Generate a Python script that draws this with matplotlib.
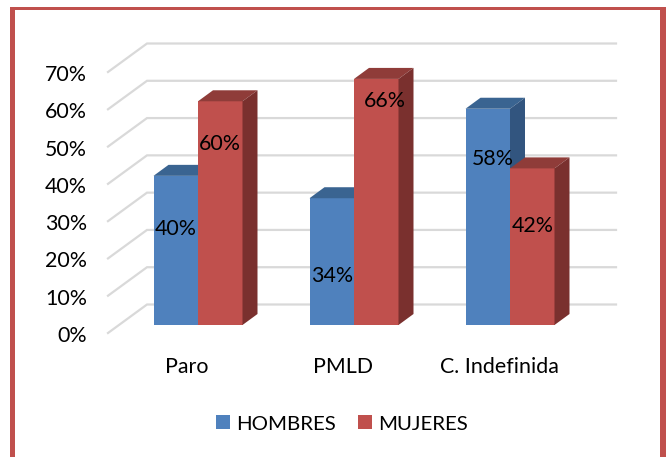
import numpy as np
import matplotlib
matplotlib.use('Agg')
import matplotlib.pyplot as plt
from matplotlib.patches import Polygon, Rectangle
from matplotlib.transforms import ScaledTranslation

# data
categories = ['Paro', 'PMLD', 'C. Indefinida']
hombres = [40, 34, 58]
mujeres = [60, 66, 42]
yticks = [0, 10, 20, 30, 40, 50, 60, 70]
# where the data labels sit, in axis percent
hombresLabelY = [28, 15.3, 46.8]
mujeresLabelY = [50.7, 62.2, 28.7]
hombresLabelDx = [0, 0, 5]
mujeresLabelDx = [0, 9, 0]

# figure size and pixel scales
W, H = 669, 457
pxPerCat = 156.0
pxPerPct = 261.0 / 70
catLeft = 108
catRight = 576

plt.rcParams['font.family'] = ['Lato', 'DejaVu Sans']
fontSize = 15.4

fig = plt.figure(figsize=(W / 100, H / 100), dpi=100)
ax = fig.add_axes([catLeft / W, (H - 333) / H, (catRight - catLeft) / W, 261 / H])
ax.set_xlim((catLeft - 198) / pxPerCat, (catRight - 198) / pxPerCat)
ax.set_ylim(0, 70)
ax.patch.set_alpha(0)
for s in ax.spines.values():
    s.set_visible(False)

gridDx = 39 / pxPerCat
gridDy = 28.5 / pxPerPct
x0 = ax.get_xlim()[0]
gridEnd = x0 + (616 - catLeft) / pxPerCat
for t in yticks:
    ax.plot([x0, x0 + gridDx, gridEnd], [t, t + gridDy, t + gridDy], color='#D9D9D9',
            lw=1.6, clip_on=False, zorder=1, solid_joinstyle='miter')

barW = 44.5 / pxPerCat
base = 8 / pxPerPct
depthX = 15 / pxPerCat
depthY = 11 / pxPerPct


def drawBar(left, value, front, top, side):
    ax.bar(left, value, barW, bottom=base, align='edge', color=front, zorder=3, clip_on=False)
    right = left + barW
    high = base + value
    ax.add_patch(Polygon([(left, high), (right, high), (right + depthX, high + depthY),
                          (left + depthX, high + depthY)], closed=True, fc=top, ec='none',
                         zorder=3, clip_on=False))
    ax.add_patch(Polygon([(right, base), (right + depthX, base + depthY),
                          (right + depthX, high + depthY), (right, high)], closed=True, fc=side,
                         ec='none', zorder=3, clip_on=False))


pos = np.arange(len(categories))
for i in pos:
    drawBar(i - barW, hombres[i], '#4F81BD', '#3A6491', '#32557F')
    drawBar(i, mujeres[i], '#C0504D', '#8F3C39', '#7A302E')

for i in pos:
    ax.text(i - barW / 2 + hombresLabelDx[i] / pxPerCat, hombresLabelY[i], '%d%%' % hombres[i],
            ha='center', va='center', fontsize=fontSize, color='black', zorder=5)
    ax.text(i + barW / 2 + mujeresLabelDx[i] / pxPerCat, mujeresLabelY[i], '%d%%' % mujeres[i],
            ha='center', va='center', fontsize=fontSize, color='black', zorder=5)

ax.set_yticks(yticks)
ax.set_yticklabels(['%d%%' % t for t in yticks], fontsize=fontSize)
ax.set_xticks(pos)
ax.set_xticklabels(categories, fontsize=fontSize)
ax.tick_params(axis='both', length=0)
ax.tick_params(axis='y', pad=15)
ax.tick_params(axis='x', pad=17)
# category names sit a little left of the bar pairs
shift = ScaledTranslation(-11 / 100, 0, fig.dpi_scale_trans)
for lbl in ax.get_xticklabels():
    lbl.set_transform(lbl.get_transform() + shift)
# y labels sit just under their gridline ends
yshift = ScaledTranslation(0, -1 / 100, fig.dpi_scale_trans)
for lbl in ax.get_yticklabels():
    lbl.set_transform(lbl.get_transform() + yshift)

handles = [Rectangle((0, 0), 1, 1, fc='#4F81BD'), Rectangle((0, 0), 1, 1, fc='#C0504D')]
fig.legend(handles, ['HOMBRES', 'MUJERES'], loc='center', bbox_to_anchor=(342 / W, (H - 424) / H),
           ncol=2, frameon=False, fontsize=14.7, handlelength=0.68, handleheight=0.68,
           handletextpad=0.33, columnspacing=1.05)

# slide frame, open at the bottom
red = '#C0504D'
fig.add_artist(Rectangle((9.5 / W, 0), 5.5 / W, (H - 7) / H, fc=red, ec='none', transform=fig.transFigure))
fig.add_artist(Rectangle((660 / W, 0), 5.5 / W, (H - 7) / H, fc=red, ec='none', transform=fig.transFigure))
fig.add_artist(Rectangle((9.5 / W, (H - 10) / H), 656 / W, 3 / H, fc=red, ec='none', transform=fig.transFigure))

fig.savefig('out.png', dpi=100)
